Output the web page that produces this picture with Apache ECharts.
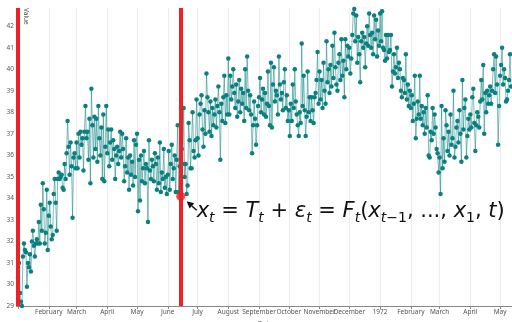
<!DOCTYPE html>
<html>
<head>
<meta charset="utf-8">
<script src="https://cdn.jsdelivr.net/npm/echarts@6/dist/echarts.min.js"></script>
<style>
  html, body { margin: 0; padding: 0; background: #fff; }
  #chart { width: 512px; height: 322px; }
</style>
</head>
<body>
<div id="chart"></div>
<script>
// daily values, one array per month, starting 1971-01-01
const jan71 = [30.3, 31.0, 29.6, 29.2, 29.0, 31.3, 31.9, 31.6, 31.5, 29.9, 31.0, 30.8, 31.4, 30.6, 32.0, 32.5, 31.8, 31.3, 31.9, 32.1, 31.9, 32.9, 31.9, 33.7, 32.5, 34.7, 33.5, 31.9, 32.4, 34.4, 31.6];
const feb71 = [33.2, 33.8, 32.7, 32.1, 32.3, 34.2, 34.9, 33.8, 32.5, 34.9, 35.2, 34.9, 35.0, 35.1, 34.5, 34.4, 35.6, 34.9, 36.1, 37.6, 36.4, 35.1, 36.6, 35.5, 33.1, 35.9, 36.1, 35.4];
const mar71 = [36.6, 35.4, 37.0, 35.9, 37.1, 36.5, 36.8, 35.3, 37.1, 38.3, 36.8, 37.1, 35.8, 37.7, 34.7, 39.1, 37.4, 35.9, 37.8, 36.3, 37.7, 35.7, 38.3, 36.8, 36.0, 37.3, 34.9, 37.9, 34.8, 36.4, 38.3];
const apr71 = [36.1, 37.2, 35.5, 36.6, 37.2, 35.8, 36.7, 36.3, 34.9, 36.0, 36.4, 35.6, 36.2, 37.1, 35.9, 37.0, 36.3, 34.8, 35.5, 36.8, 35.2, 35.9, 34.4, 36.0, 35.1, 35.7, 34.6, 36.7, 35.0, 36.5];
const may71 = [37.0, 33.4, 35.8, 33.9, 36.0, 34.8, 35.4, 36.2, 34.7, 35.6, 35.4, 32.9, 36.7, 35.3, 34.9, 35.8, 35.5, 34.8, 36.1, 35.6, 34.4, 35.9, 34.7, 36.6, 34.3, 35.2, 34.9, 36.3, 34.5, 35.0, 34.2];
const jun71 = [35.1, 36.2, 34.4, 35.6, 36.5, 34.9, 35.4, 36.0, 34.3, 35.8, 37.4, 34.3, 35.5, 34.1, 36.3, 35.6, 38.2, 35.0, 35.6, 34.2, 34.6, 37.5, 36.7, 35.4, 35.4, 38.0, 36.2, 35.9, 36.7, 38.6];
const jul71 = [36.8, 36.0, 37.9, 38.4, 38.8, 37.2, 36.4, 38.1, 37.0, 39.8, 38.7, 38.0, 37.1, 38.5, 36.9, 38.2, 37.4, 37.9, 38.6, 37.3, 38.3, 39.2, 38.0, 35.8, 38.4, 37.6, 38.7, 39.7, 37.5, 38.8, 37.9];
const aug71 = [40.5, 37.9, 39.7, 38.6, 39.2, 40.0, 38.9, 38.2, 39.3, 37.8, 38.5, 39.5, 38.0, 39.1, 38.4, 38.9, 37.6, 40.0, 38.2, 40.6, 39.0, 38.1, 38.8, 37.9, 36.1, 37.4, 38.5, 37.7, 36.5, 37.4, 38.3];
const sep71 = [38.7, 39.6, 38.0, 38.6, 39.1, 37.9, 38.9, 37.8, 38.4, 39.9, 38.3, 37.4, 40.3, 37.3, 39.3, 40.1, 38.5, 39.0, 38.8, 37.9, 40.6, 39.3, 38.6, 38.9, 38.1, 39.4, 40.0, 38.2, 38.8, 37.6];
const oct71 = [38.1, 36.9, 38.4, 37.6, 39.3, 38.2, 40.0, 38.5, 37.9, 37.4, 36.9, 38.0, 37.5, 41.2, 38.3, 39.7, 38.1, 36.9, 37.8, 39.9, 38.0, 38.7, 37.6, 38.7, 38.1, 37.5, 38.7, 38.9, 39.5, 40.8, 38.4];
const nov71 = [39.9, 38.6, 39.5, 38.2, 40.3, 39.0, 38.4, 41.3, 39.4, 40.0, 38.9, 40.2, 39.2, 41.1, 39.6, 41.7, 40.1, 39.3, 39.0, 40.3, 40.7, 39.5, 41.4, 39.7, 40.4, 38.7, 41.4, 40.0, 41.1, 40.6];
const dec71 = [41.0, 39.8, 40.5, 41.6, 42.6, 42.8, 41.3, 42.5, 40.3, 41.5, 40.7, 39.4, 41.3, 41.7, 41.0, 41.5, 40.1, 41.2, 42.0, 41.1, 42.6, 41.6, 41.0, 41.7, 40.7, 42.5, 41.4, 42.3, 40.6, 41.8, 41.1];
const jan72 = [42.6, 41.3, 42.7, 41.0, 40.9, 40.4, 41.6, 40.5, 41.6, 40.8, 40.9, 41.6, 39.2, 39.9, 40.7, 39.8, 40.1, 41.0, 39.6, 40.3, 40.0, 39.0, 38.7, 39.6, 39.5, 38.9, 40.7, 38.6, 39.3, 38.3, 39.0];
const feb72 = [38.2, 38.8, 37.6, 38.4, 39.7, 36.8, 37.7, 38.5, 37.9, 39.7, 37.7, 38.3, 37.4, 38.0, 37.0, 38.2, 37.3, 38.8, 36.0, 35.9, 37.1, 36.7, 38.2, 37.0, 37.9, 37.3, 36.3, 36.1, 35.2];
const mar72 = [35.9, 34.2, 38.3, 35.4, 36.8, 35.7, 38.1, 37.4, 36.2, 37.1, 36.0, 37.9, 36.5, 36.8, 39.0, 35.9, 36.4, 37.3, 37.6, 36.6, 38.1, 37.0, 35.7, 39.5, 37.2, 38.2, 38.6, 35.9, 36.9, 37.7, 37.2];
const apr72 = [37.9, 37.3, 38.7, 39.1, 37.5, 36.2, 37.4, 38.0, 37.8, 37.3, 38.5, 39.5, 38.6, 40.2, 37.0, 38.9, 38.0, 39.0, 38.4, 38.8, 39.2, 38.4, 39.0, 40.0, 40.7, 38.9, 40.6, 39.3, 36.5, 38.3];
const may72 = [39.7, 40.2, 41.0, 39.3, 40.0, 39.6, 38.5, 38.6, 39.0, 39.5, 40.7, 39.2];

const values = [].concat(jan71, feb71, mar71, apr71, may71, jun71, jul71, aug71,
  sep71, oct71, nov71, dec71, jan72, feb72, mar72, apr72, may72);

const startDay = [1971, 0, 1];
const axisMin = new Date(1971, 0, 1).getTime();
const axisMax = new Date(1972, 4, 13).getTime();
const yMin = 29;
const yMax = 42.85;

// marked time point
const markDate = new Date(1971, 5, 14).getTime();
const markValue = 34.1;

const monthNames = ['January', 'February', 'March', 'April', 'May', 'June', 'July',
  'August', 'September', 'October', 'November', 'December'];

const seriesData = values.map((v, i) => [new Date(startDay[0], startDay[1], startDay[2] + i).getTime(), v]);

const chart = echarts.init(document.getElementById('chart'));
const font = 'Noto Sans';
const valueTitle = {
  type: 'text',
  left: 22,
  top: 8,
  rotation: -Math.PI / 2,
  style: { text: 'Value', fontSize: 6.5, fill: '#555', fontFamily: font }
};

chart.setOption({
  animation: false,
  grid: { left: 18, right: 0, top: 8, bottom: 16, outerBoundsMode: 'none', containLabel: false },
  xAxis: {
    type: 'time',
    min: axisMin,
    max: axisMax,
    minInterval: 28 * 86400000,
    maxInterval: 31 * 86400000,
    name: 'Date',
    nameLocation: 'middle',
    nameGap: 14,
    nameTextStyle: { fontSize: 6.5, color: '#555', fontFamily: font },
    axisLine: { lineStyle: { color: '#888', width: 1 } },
    axisTick: { show: true, length: 3, lineStyle: { color: '#888' } },
    axisLabel: {
      fontSize: 6.5,
      color: '#555',
      fontFamily: font,
      margin: 3,
      showMinLabel: false,
      showMaxLabel: false,
      hideOverlap: false,
      formatter: function (value) {
        if (value <= axisMin || value >= axisMax) return '';
        const d = new Date(value);
        return d.getMonth() === 0 ? String(d.getFullYear()) : monthNames[d.getMonth()];
      }
    },
    splitLine: { show: true, lineStyle: { color: '#ececec', width: 1 } }
  },
  yAxis: {
    type: 'value',
    min: yMin,
    max: yMax,
    interval: 1,
    axisLine: { show: false },
    axisTick: { show: true, length: 2, lineStyle: { color: '#888' } },
    axisLabel: {
      fontSize: 6.5,
      color: '#555',
      fontFamily: font,
      margin: 4,
      formatter: v => (Number.isInteger(v) ? String(v) : '')
    },
    splitLine: { show: false }
  },
  series: [
    {
      type: 'line',
      data: seriesData,
      symbol: 'circle',
      symbolSize: 4.5,
      showAllSymbol: true,
      itemStyle: { color: '#0c7f7f' },
      lineStyle: { color: 'rgba(20,135,135,0.55)', width: 1 },
      z: 2
    },
    {
      type: 'scatter',
      data: [[markDate, markValue]],
      symbolSize: 9,
      itemStyle: { color: '#ee2226' },
      z: 5,
      markLine: {
        silent: true,
        symbol: 'none',
        label: { show: false },
        lineStyle: { color: '#ee2226', width: 4, type: 'solid' },
        data: [{ xAxis: axisMin }, { xAxis: markDate }]
      }
    }
  ],
  graphic: [valueTitle]
});

// arrow and formula anchored at the marked point
const p = chart.convertToPixel({ gridIndex: 0 }, [markDate, markValue]);
const tip = [p[0] + 6, p[1] + 5];
const tail = [p[0] + 16, p[1] + 14];
const ang = Math.atan2(tip[1] - tail[1], tip[0] - tail[0]);
const hl = 7, hw = 3.5;
const base = [tip[0] - hl * Math.cos(ang), tip[1] - hl * Math.sin(ang)];
const head = [
  tip,
  [base[0] + hw * Math.sin(ang), base[1] - hw * Math.cos(ang)],
  [base[0] - hw * Math.sin(ang), base[1] + hw * Math.cos(ang)]
];
const mf = 'DejaVu Sans';
chart.setOption({
  graphic: [
    valueTitle,
    {
      type: 'line',
      shape: { x1: tail[0], y1: tail[1], x2: base[0], y2: base[1] },
      style: { stroke: '#111', lineWidth: 1.5 },
      z: 10
    },
    {
      type: 'polygon',
      shape: { points: head },
      style: { fill: '#111' },
      z: 10
    },
    {
      type: 'text',
      x: p[0] + 16,
      y: p[1] + 1,
      z: 10,
      style: {
        text: '{v|x}{s|t}{o| = }{v|T}{s|t}{o| + }{v|ε}{s|t}{o| = }{v|F}{s|t}{o|(}{v|x}{s|t}{u|−1}{o|, ..., }{v|x}{u|1}{o|, }{v|t}{o|)}',
        fill: '#111',
        fontSize: 21,
        fontFamily: mf,
        rich: {
          v: { fontSize: 21, fontStyle: 'italic', fontFamily: mf, lineHeight: 28 },
          o: { fontSize: 21, fontFamily: mf, lineHeight: 28 },
          s: { fontSize: 14, fontStyle: 'italic', fontFamily: mf, lineHeight: 14, verticalAlign: 'bottom' },
          u: { fontSize: 14, fontFamily: mf, lineHeight: 14, verticalAlign: 'bottom' }
        }
      }
    }
  ]
});
</script>
</body>
</html>
